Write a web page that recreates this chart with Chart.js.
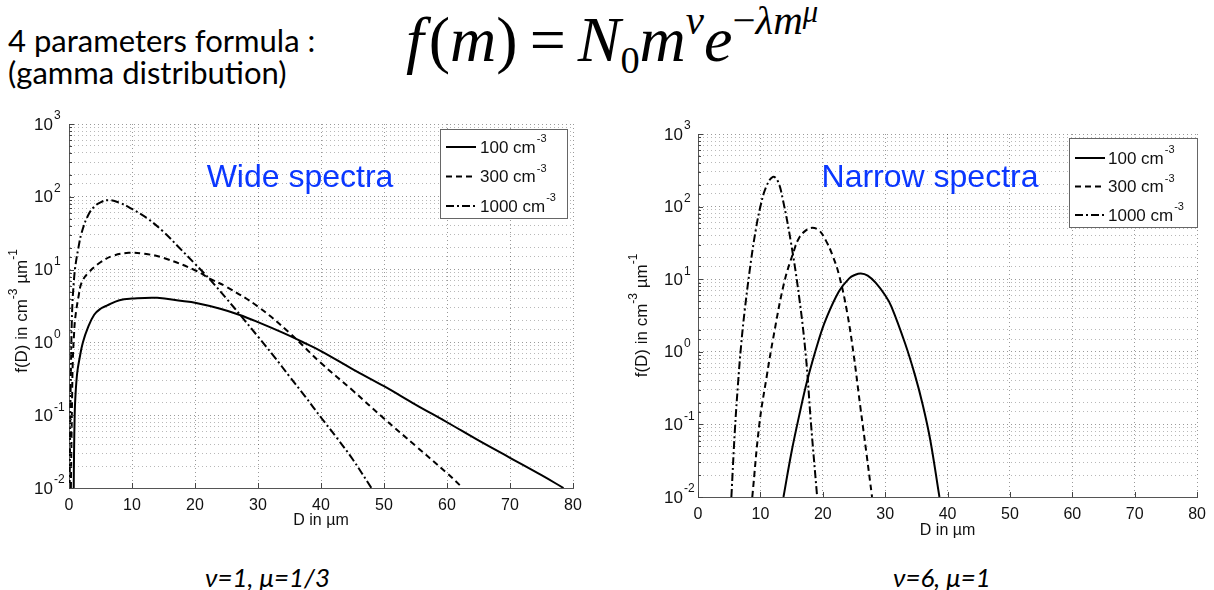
<!DOCTYPE html>
<html><head><meta charset="utf-8">
<script src="https://cdn.jsdelivr.net/npm/chart.js@4.4.0/dist/chart.umd.min.js"></script>
<style>
html,body{margin:0;padding:0;background:#fff;}
body{width:1214px;height:590px;position:relative;overflow:hidden;}
.t{position:absolute;white-space:nowrap;line-height:1;color:#000;}
.head{font-family:Lato,'Open Sans',sans-serif;font-size:31px;left:8px;}
#formula{font-family:'Liberation Serif','Times New Roman',serif;font-size:64px;left:406px;top:8px;}
#formula .sp{font-size:0.64em;position:relative;top:-0.66em;}
#formula .sb{font-size:0.6em;position:relative;top:0.3em;}
#formula .sp2{font-size:0.75em;position:relative;top:-0.4em;}
#formula .gap{display:inline-block;width:12px;}
.cap{font-family:Lato,sans-serif;font-style:italic;font-size:26px;}
canvas{position:absolute;}
</style></head><body>
<div class="t head" style="top:25px">4 parameters formula :</div>
<div class="t head" style="top:57px">(gamma distribution)</div>
<div class="t" id="formula"><i>f</i><span class="gap" style="width:5px"></span>(<i>m</i>)<span class="gap"></span>=<span class="gap"></span><i>N</i><span class="sb">0</span><i>m</i><span class="sp"><i>ν</i></span><i>e</i><span class="sp">−<i>λm</i><span class="sp2"><i>μ</i></span></span></div>
<canvas id="cw" width="600" height="440" style="left:0;top:100px"></canvas>
<canvas id="cn" width="594" height="440" style="left:620px;top:100px"></canvas>
<div class="t cap" style="left:205px;top:564px">ν=1, μ=1/3</div>
<div class="t cap" style="left:893px;top:564px">ν=6, μ=1</div>
<script>
// ---- data ----
const seriesLabels = ['100 cm', '300 cm', '1000 cm'];
const labelExponent = '-3';
const xTicksMin = 0, xTicksMax = 80, xTickStep = 10;
const yTickExponents = [-2, -1, 0, 1, 2, 3];

// Wide spectra (nu=1, mu=1/3)
const wideD100 = [0.75,0.8,0.9,1.0,1.3,1.7,2.2,3,4,5,6,8,10,14,18,20,24,27,30,34,37,40,45,50,55,60,65,70,75,78.5];
const wideF100 = [0.01,0.03,0.1,0.17,0.38,0.62,1.0,1.6,2.4,2.9,3.2,3.8,4.0,4.1,3.7,3.5,2.9,2.4,1.9,1.35,1.02,0.76,0.43,0.25,0.14,0.08,0.045,0.026,0.015,0.01];
const wideD300 = [0.3,0.4,0.5,0.6,0.8,1,1.5,2,3,5,7,9.5,12,15,20,22.5,25,30,35,40,45,50,55,60,62.5];
const wideF300 = [0.01,0.05,0.2,0.55,1.3,2.2,4.2,6.6,8.9,12.6,15.5,17,16.5,14.5,9.8,7.4,5.8,3.1,1.35,0.52,0.22,0.09,0.038,0.016,0.01];
const wideD1000 = [0.1,0.2,0.3,0.5,0.75,1,1.5,2,3,4,5,6.3,8,10,12.5,15,17.5,20,22.5,25,27.5,30,32.5,35,37.5,40,42.5,45,48];
const wideF1000 = [0.01,0.08,0.4,2.8,6.5,11,20,32,55,73,84,90,83,68,50,33,20,12,7.1,4.0,2.2,1.2,0.65,0.34,0.18,0.093,0.049,0.025,0.01];

// Narrow spectra (nu=6, mu=1)
const narrowD100 = [13.7,15.0,16.2,17.5,19.4,20.5,22.6,24.2,25.2,26.1,27.2,28.5,30.0,31.0,33.2,34.8,36.0,37.2,38.7];
const narrowF100 = [0.01,0.042,0.13,0.4,1.5,2.8,6.8,10.2,11.5,12,11.2,8.9,6.0,4.2,1.3,0.47,0.19,0.063,0.01];
const narrowD300 = [8.7,9.86,11.0,12.0,13.8,15.4,16.2,17.3,18.3,19.4,20.5,21.5,22.6,23.9,25.0,26.0,27.0,27.9];
const narrowF300 = [0.01,0.105,0.45,1.45,8.9,25,37,47,51,47,34,22,11.5,3.5,0.85,0.18,0.04,0.01];
const narrowD1000 = [5.35,5.9,6.4,6.9,7.5,8.5,9.3,10.0,10.9,12.0,12.8,13.6,14.9,16.2,17.3,18.1,19.1];
const narrowF1000 = [0.01,0.08,0.35,1.2,3.8,18,50,100,185,257,224,125,32,5.8,0.85,0.105,0.01];

// ---- styles ----
const dashes = [[], [6,4], [8,3,2,3]];
const FONT = '"Liberation Sans", Arial, Helvetica, sans-serif';

function pts(D, F){ return D.map((d,i)=>({x:d, y:F[i]})); }
function isDecade(v){ const l = Math.log10(v); return Math.abs(l - Math.round(l)) < 1e-6; }

const decor = {
  id: 'decor',
  afterDraw(chart, args, o) {
    const ctx = chart.ctx;
    const {left, right, top, bottom} = chart.chartArea;
    const xs = chart.scales.x, ys = chart.scales.y;
    ctx.save();
    // inward tick marks
    ctx.strokeStyle = '#444'; ctx.lineWidth = 1; ctx.setLineDash([]);
    ctx.beginPath();
    xs.ticks.forEach(t => { const p = Math.round(xs.getPixelForValue(t.value)) + 0.5; ctx.moveTo(p, bottom); ctx.lineTo(p, bottom - 5); });
    ys.ticks.forEach(t => { const p = Math.round(ys.getPixelForValue(t.value)) + 0.5; ctx.moveTo(left, p); ctx.lineTo(left + (isDecade(t.value) ? 5 : 3), p); });
    ctx.stroke();
    // y tick labels 10^e
    ctx.fillStyle = '#111'; ctx.textBaseline = 'middle';
    yTickExponents.forEach(e => {
      const p = ys.getPixelForValue(Math.pow(10, e));
      ctx.font = '17px ' + FONT; ctx.textAlign = 'right';
      ctx.fillText('10', o.yLabelRight, p + 1);
      ctx.font = '12px ' + FONT; ctx.textAlign = 'left';
      ctx.fillText(String(e), o.yLabelRight + 1, p - 8);
    });
    // y title (rotated)
    ctx.save();
    ctx.translate(o.yTitleX, (top + bottom) / 2 + o.yTitleDy);
    ctx.rotate(-Math.PI / 2);
    const parts = [['f(D) in cm', 17, 0], ['-3', 12, -8], [' \u00b5m', 17, 0], ['-1', 12, -8]];
    let w = 0;
    parts.forEach(p => { ctx.font = p[1] + 'px ' + FONT; w += ctx.measureText(p[0]).width; });
    let cx = -w / 2; ctx.textAlign = 'left';
    parts.forEach(p => { ctx.font = p[1] + 'px ' + FONT; ctx.fillText(p[0], cx, p[2]); cx += ctx.measureText(p[0]).width; });
    ctx.restore();
    // x title
    ctx.font = '16px ' + FONT; ctx.textAlign = 'center'; ctx.fillStyle = '#111';
    ctx.fillText('D in \u00b5m', (left + right) / 2, o.xTitleY);
    // note text
    ctx.font = '32px ' + FONT; ctx.fillStyle = '#0a37ff';
    ctx.fillText(o.note, o.noteX, o.noteY);
    // legend
    const L = o.legend;
    ctx.fillStyle = '#fff'; ctx.fillRect(L.x, L.y, L.w, L.h);
    ctx.strokeStyle = '#666'; ctx.lineWidth = 1; ctx.strokeRect(L.x + 0.5, L.y + 0.5, L.w, L.h);
    chart.data.datasets.forEach((ds, i) => {
      const y = L.y0 + i * L.dy;
      ctx.strokeStyle = '#000'; ctx.lineWidth = 2; ctx.setLineDash(ds.borderDash || []);
      ctx.beginPath(); ctx.moveTo(L.lx0, y); ctx.lineTo(L.lx1, y); ctx.stroke();
      ctx.setLineDash([]);
      ctx.fillStyle = '#111'; ctx.textAlign = 'left';
      ctx.font = '17px ' + FONT; ctx.fillText(ds.label, L.tx, y + 1);
      const tw = ctx.measureText(ds.label).width;
      ctx.font = '11px ' + FONT; ctx.fillText(labelExponent, L.tx + tw + 1, y - 8);
    });
    ctx.restore();
  }
};

function makeChart(id, D, F, o) {
  const datasets = D.map((d, i) => ({
    label: seriesLabels[i], data: pts(d, F[i]), borderColor: '#000', borderWidth: 2,
    borderDash: dashes[i], pointRadius: 0, fill: false, tension: 0.4
  }));
  return new Chart(document.getElementById(id), {
    type: 'line',
    data: { datasets },
    plugins: [decor],
    options: {
      responsive: false, animation: false, events: [],
      layout: { padding: { left: 0, top: o.padTop, right: o.padRight, bottom: 0 } },
      plugins: { legend: { display: false }, tooltip: { enabled: false }, decor: o },
      scales: {
        x: {
          type: 'linear', min: xTicksMin, max: xTicksMax,
          ticks: { stepSize: xTickStep, padding: 8, maxRotation: 0, color: '#111', font: { family: FONT, size: 16 } },
          grid: { color: 'rgba(0,0,0,0.4)', lineWidth: 1, drawTicks: false },
          border: { display: true, color: '#555', width: 1, dash: [1, 3] },
          afterFit(s) { s.height = o.xAxisH; }
        },
        y: {
          type: 'logarithmic', min: 0.01, max: 1000,
          ticks: { display: false },
          grid: { color: c => (c.tick && isDecade(c.tick.value)) ? 'rgba(0,0,0,0.4)' : 'rgba(0,0,0,0.28)', lineWidth: 1, drawTicks: false },
          border: { display: true, color: '#555', width: 1, dash: [1, 3] },
          afterFit(s) { s.width = o.yAxisW; }
        }
      }
    }
  });
}

makeChart('cw', [wideD100, wideD300, wideD1000], [wideF100, wideF300, wideF1000], {
  padTop: 24, padRight: 27, xAxisH: 52, yAxisW: 69,
  yLabelRight: 53, yTitleX: 22, yTitleDy: 5, xTitleY: 421,
  note: 'Wide spectra', noteX: 300, noteY: 78,
  legend: { x: 440, y: 29, w: 127, h: 89, y0: 47, dy: 29.5, lx0: 446, lx1: 476, tx: 480 }
});
makeChart('cn', [narrowD100, narrowD300, narrowD1000], [narrowF100, narrowF300, narrowF1000], {
  padTop: 34, padRight: 12, xAxisH: 43, yAxisW: 78,
  yLabelRight: 63, yTitleX: 22, yTitleDy: 0, xTitleY: 431,
  note: 'Narrow spectra', noteX: 310, noteY: 78,
  legend: { x: 449, y: 38, w: 128, h: 89, y0: 58, dy: 28.5, lx0: 455, lx1: 485, tx: 488 }
});
</script>
</body></html>
